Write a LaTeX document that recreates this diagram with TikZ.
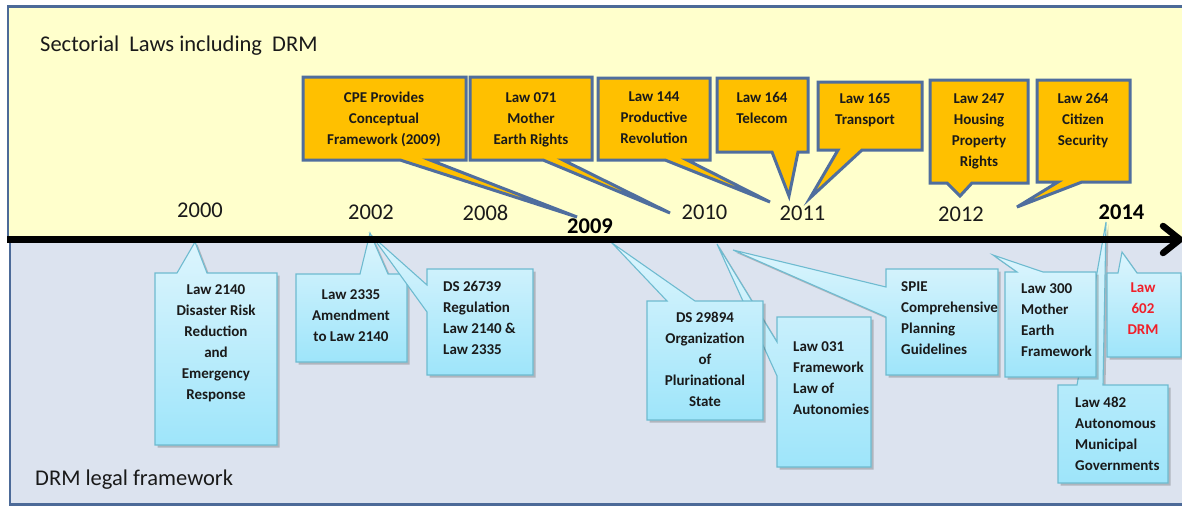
\documentclass[tikz,border=0pt]{standalone}
\usepackage{fontspec}
\setmainfont{Carlito}
\usetikzlibrary{shadows}
\definecolor{bgyellow}{HTML}{FFFFCC}
\definecolor{bglow}{HTML}{DCE3EF}
\definecolor{frameedge}{HTML}{4C6A98}
\definecolor{orangefill}{HTML}{FFC000}
\definecolor{orangeedge}{HTML}{4F6E9E}
\definecolor{cyanedge}{HTML}{6EBBD0}
\definecolor{cyantop}{HTML}{DDF5FD}
\definecolor{cyanbot}{HTML}{9EE5FA}
\definecolor{txt}{HTML}{1A1A1A}
\definecolor{redtxt}{HTML}{F0202A}
\tikzset{
  topcall/.style={fill=orangefill, draw=orangeedge, line width=3pt, line join=miter},
  botcall/.style={draw=cyanedge, line width=1.1pt, top color=cyantop, bottom color=cyanbot,
    drop shadow={shadow xshift=2.5pt, shadow yshift=-2.5pt, opacity=0.3, fill=black!70}},
  ctext/.style={font=\fontsize{15}{21}\selectfont\bfseries, inner sep=0pt, text=txt, anchor=north},
  ltext/.style={font=\fontsize{15}{21}\selectfont\bfseries, inner sep=0pt, text=txt, anchor=north west, align=left},
  yeartext/.style={font=\fontsize{22.5}{27}\selectfont, inner sep=0pt, text=txt},
  yearbold/.style={font=\fontsize{22.5}{27}\selectfont\bfseries, inner sep=0pt, text=black},
  headtext/.style={font=\fontsize{22.5}{27}\selectfont, inner sep=0pt, text=txt, anchor=base west}
}
\begin{document}
\begin{tikzpicture}[x=1pt,y=-1pt]
\useasboundingbox (0,0) rectangle (1182,506);
\clip (0,0) rectangle (1182,506);
% backgrounds
\fill[bgyellow] (8,7) rectangle (1190,239);
\draw[frameedge, line width=2.5pt] (1190,6.5) -- (8,6.5) -- (8,239);
\fill[bglow] (9,239) rectangle (1190,504);
\draw[frameedge, line width=2.5pt] (10,239) -- (10,504.5) -- (1190,504.5);

% bottom callouts
\path[botcall] (155,273) -- (177,273) -- (195,242) -- (207,273) -- (277,273) -- (277,445) -- (155,445) -- cycle;
\path[botcall] (296,274) -- (360,274) -- (370,233) -- (388,274) -- (407,274) -- (407,362) -- (296,362) -- cycle;
\path[botcall] (427,269) -- (533,269) -- (533,375) -- (427,375) -- (427,312) -- (372,236) -- (427,285) -- cycle;
\path[botcall] (777,317) -- (871,317) -- (871,467) -- (777,467) -- (777,376) -- (717,244) -- (777,342) -- cycle;
\path[botcall] (647,301) -- (667,301) -- (612,243) -- (695,301) -- (763,301) -- (763,420) -- (647,420) -- cycle;
\path[botcall] (886,269) -- (998,269) -- (998,375) -- (886,375) -- (886,317) -- (733,250) -- (886,287) -- cycle;
\path[botcall] (1058,385) -- (1077,385) -- (1106,222) -- (1103,385) -- (1168,385) -- (1168,483) -- (1058,483) -- cycle;
\path[botcall] (1005,272) -- (1017,272) -- (993,255) -- (1043,272) -- (1096,272) -- (1096,377) -- (1005,377) -- cycle;
\path[botcall] (1107,273) -- (1118,273) -- (1122,252) -- (1137,273) -- (1181,273) -- (1181,357) -- (1107,357) -- cycle;

% timeline
\coordinate (tstart) at (7,239.5);
\coordinate (tend) at (1176,239.5);
\coordinate (headtop) at (1163,226);
\coordinate (headtip) at (1180,239.5);
\coordinate (headbot) at (1163,253);
\draw[black, line width=6.5pt] (tstart) -- (tend);
\draw[black, line width=6.5pt, line cap=round, line join=round] (headtop) -- (headtip) -- (headbot);

% top callouts
\path[topcall] (303,77) -- (466,77) -- (466,160) -- (430,160) -- (577,217) -- (400,160) -- (303,160) -- cycle;
\path[topcall] (470,77) -- (592,77) -- (592,160) -- (563,160) -- (670,213) -- (543,160) -- (470,160) -- cycle;
\path[topcall] (598,78) -- (710,78) -- (710,160) -- (687,160) -- (770,202) -- (665,160) -- (598,160) -- cycle;
\path[topcall] (717,78) -- (808,78) -- (808,152) -- (798,152) -- (789,196) -- (772,152) -- (717,152) -- cycle;
\path[topcall] (818,82) -- (922,82) -- (922,150) -- (862,150) -- (810,198) -- (838,150) -- (818,150) -- cycle;
\path[topcall] (930,80) -- (1028,80) -- (1028,183) -- (972,183) -- (960,196) -- (947,183) -- (930,183) -- cycle;
\path[topcall] (1037,80) -- (1130,80) -- (1130,182) -- (1082,182) -- (1017,207) -- (1058,182) -- (1037,182) -- cycle;

% headings
\node[headtext] (sect) at (40,51) {Sectorial\hspace{5pt} Laws including\hspace{5pt} DRM};
\node[headtext] (drmlf) at (35,485) {DRM legal framework};

% years
\node[yeartext] (y2000) at (200,210) {2000};
\node[yeartext] (y2002) at (371,212.5) {2002};
\node[yeartext] (y2008) at (485.5,212.5) {2008};
\node[yearbold] (y2009) at (590,226) {2009};
\node[yeartext] (y2010) at (704.5,212) {2010};
\node[yeartext] (y2011) at (802.5,213.5) {2011};
\node[yeartext] (y2012) at (961,214.5) {2012};
\node[yearbold] (y2014) at (1121.5,212) {2014};

% top callout texts
\node[ctext, align=center] (cpe) at (384,92) {CPE Provides\\Conceptual\\Framework (2009)};
\node[ctext, align=center] (l071) at (531,92) {Law 071\\Mother\\Earth Rights};
\node[ctext, align=center] (l144) at (654,92) {Law 144\\Productive\\Revolution};
\node[ctext, align=center] (l164) at (762,92) {Law 164\\Telecom};
\node[ctext, align=center] (l165) at (865,93) {Law 165\\Transport};
\node[ctext, align=center] (l247) at (979,93) {Law 247\\Housing\\Property\\Rights};
\node[ctext, align=center] (l264) at (1083,93) {Law 264\\Citizen\\Security};

% bottom callout texts
\node[ctext, align=center] (l2140) at (216,284) {Law 2140\\Disaster Risk\\Reduction\\and\\Emergency\\Response};
\node[ctext, align=center] (l2335) at (351,289) {Law 2335\\Amendment\\to Law 2140};
\node[ltext] (ds26739) at (443,281) {DS 26739\\Regulation\\Law 2140 \&\\Law 2335};
\node[ctext, align=center] (ds29894) at (705,312) {DS 29894\\Organization\\of\\Plurinational\\State};
\node[ltext] (l031) at (793,341) {Law 031\\Framework\\Law of\\Autonomies};
\node[ltext] (spie) at (901,281) {SPIE\\Comprehensive\\Planning\\Guidelines};
\node[ltext] (l300) at (1021,283) {Law 300\\Mother\\Earth\\Framework};
\node[ltext] (l482) at (1075,397) {Law 482\\Autonomous\\Municipal\\Governments};
\node[ctext, align=center, text=redtxt] (l602) at (1143,283) {Law\\602\\DRM};
\end{tikzpicture}
\end{document}
